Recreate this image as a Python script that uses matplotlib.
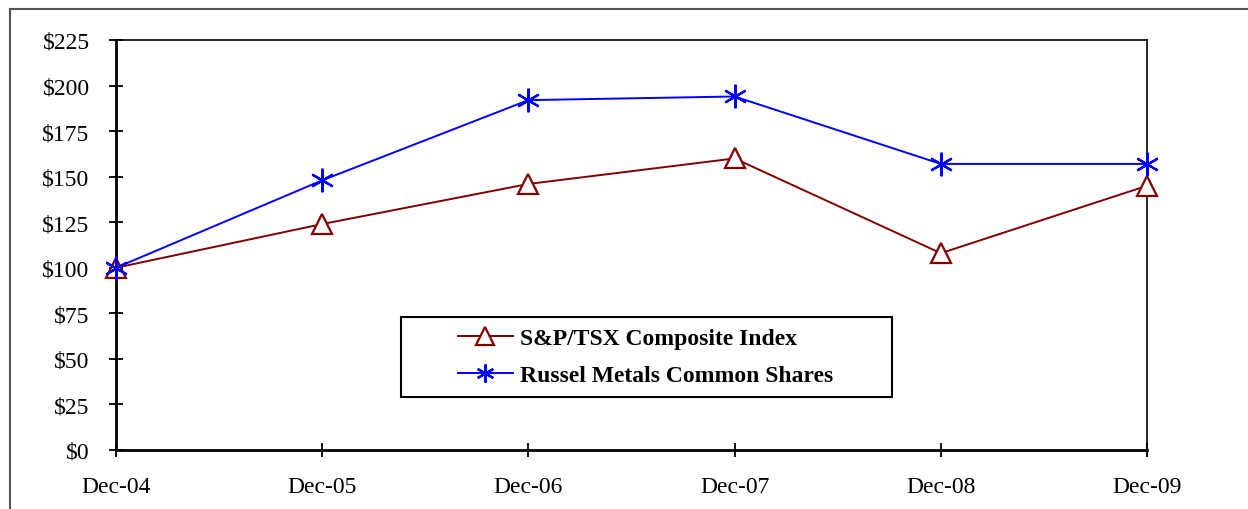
import matplotlib.pyplot as plt
from matplotlib.lines import Line2D
from matplotlib.patches import Rectangle

plt.rc('font', family=['Liberation Serif', 'DejaVu Serif'], size=17)

dates = ["Dec-04", "Dec-05", "Dec-06", "Dec-07", "Dec-08", "Dec-09"]
tsx = [100, 124, 146, 160, 108, 145]
russel = [100, 148, 192, 194, 157, 157]
yticks = list(range(0, 226, 25))

fig = plt.figure(figsize=(12.48, 5.1), dpi=100)
ax = fig.add_axes([116 / 1248, 59 / 510, 1031 / 1248, 410 / 510])

x = list(range(len(dates)))
ax.plot(x, tsx, color='#800000', lw=1.4, marker='^', ms=14, mfc='white',
        mec='#800000', mew=1.6, label='S&P/TSX Composite Index', clip_on=False, zorder=3)
ax.plot(x, russel, color='#0000ff', lw=1.4, marker=(6, 2, 0), ms=17,
        mec='#0000ff', mew=1.6, label='Russel Metals Common Shares', clip_on=False, zorder=4)

ax.set_xlim(0, len(dates) - 1)
ax.set_ylim(0, 225)
ax.set_xticks(x)
ax.set_xticklabels(dates)
ax.set_yticks(yticks)
ax.set_yticklabels(['$%d' % v for v in yticks])
ax.tick_params(direction='inout', length=10, width=1.3, colors='black', labelsize=17)
ax.tick_params(axis='x', pad=14)
ax.tick_params(axis='y', pad=14)
for s in ['left', 'bottom']:
    ax.spines[s].set_linewidth(2.0)
for s in ['top', 'right']:
    ax.spines[s].set_linewidth(1.2)

# legend box
ax.add_patch(Rectangle((0.276, 0.129), 0.477, 0.195, transform=ax.transAxes,
                       fill=True, facecolor='white', edgecolor='black', lw=1.5, zorder=5))
leg = ax.legend(loc='center left', bbox_to_anchor=(0.332, 0.227), frameon=False,
                prop={'weight': 'bold', 'size': 17}, handlelength=2.3,
                handletextpad=0.3, borderpad=0, borderaxespad=0, labelspacing=0.68)
leg.set_zorder(6)
for h in leg.legend_handles:
    h.set_markersize(13)

# outer frame
fig.add_artist(Line2D([10 / 1248, 1], [500 / 510, 500 / 510], color='#555555', lw=1.5))
fig.add_artist(Line2D([10 / 1248, 10 / 1248], [0, 500 / 510], color='#555555', lw=1.5))

fig.savefig('out.png', dpi=100)
